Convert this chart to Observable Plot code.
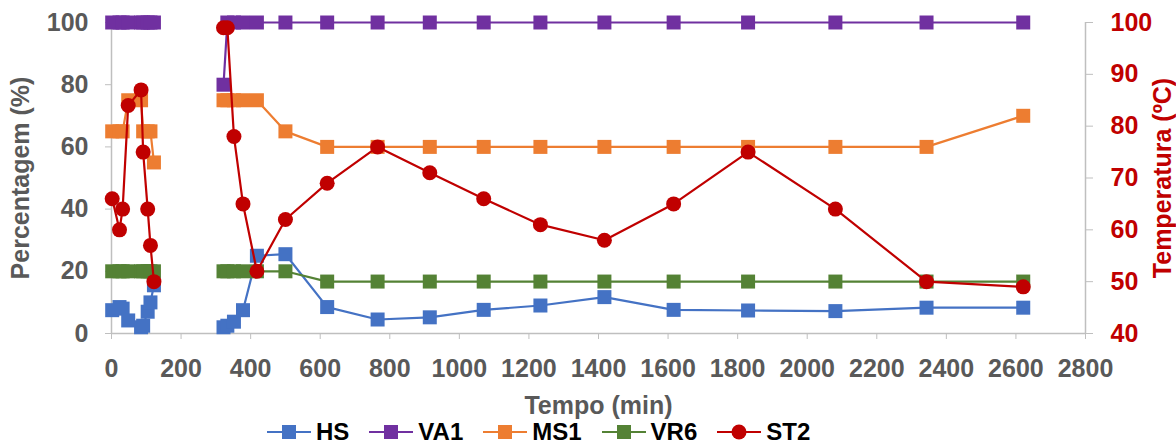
<!DOCTYPE html>
<html><head><meta charset="utf-8">
<script src="https://cdn.jsdelivr.net/npm/d3@7"></script>
<script src="https://cdn.jsdelivr.net/npm/@observablehq/plot@0.6"></script>
<style>
body{margin:0;background:#fff;font-family:"Liberation Sans",Arial,sans-serif;}
#wrap{position:relative;width:1176px;height:420px;}
#wrap svg{position:absolute;left:0;top:0;}
#legend{display:flex;align-items:center;height:24px;padding-left:267px;font-weight:bold;font-size:24px;color:#000;}
#legend .item{display:flex;align-items:center;margin-right:20px;}
#legend svg{margin-right:5px;}
</style></head><body>
<div id="wrap"></div>
<div id="legend"></div>
<script>
// Time (min): first run and second run (gap between them)
const tRun1 = [2, 23, 32, 48, 85, 91, 104, 112, 122];
const tRun2 = [322, 333, 352, 378, 418, 500, 620, 765, 915, 1070, 1233, 1417, 1616, 1830, 2081, 2343, 2621];

// Percentage series (%)
const HS_1  = [7.5, 8.5, 8, 4.2, 2, 2.5, 7, 10, 15.5];
const HS_2  = [2, 2.5, 3.8, 7.5, 25, 25.5, 8.5, 4.5, 5.2, 7.6, 9.0, 11.7, 7.6, 7.4, 7.2, 8.3, 8.3];
const VA1_1 = [100, 100, 100, 100, 100, 100, 100, 100, 100];
const VA1_2 = [80, 100, 100, 100, 100, 100, 100, 100, 100, 100, 100, 100, 100, 100, 100, 100, 100];
const MS1_1 = [65, 65, 65, 75, 75, 65, 65, 65, 55];
const MS1_2 = [75, 75, 75, 75, 75, 65, 60, 60, 60, 60, 60, 60, 60, 60, 60, 60, 70];
const VR6_1 = [20, 20, 20, 20, 20, 20, 20, 20, 20];
const VR6_2 = [20, 20, 20, 20, 20, 20, 16.7, 16.7, 16.7, 16.7, 16.7, 16.7, 16.7, 16.7, 16.7, 16.7, 16.7];

// Temperature series (ºC)
const ST2_1 = [66, 60, 64, 84, 87, 75, 64, 57, 50];
const ST2_2 = [99, 99, 78, 65, 52, 62, 69, 76, 71, 66, 61, 58, 65, 75, 64, 50, 49];

const seriesNames = ["HS", "VA1", "MS1", "VR6", "ST2"];
const seriesColors = ["#4472C4", "#7030A0", "#ED7D31", "#548235", "#C00000"];
const xTicks = [0, 200, 400, 600, 800, 1000, 1200, 1400, 1600, 1800, 2000, 2200, 2400, 2600, 2800];
const yTicks = [0, 20, 40, 60, 80, 100];
const tTicks = [40, 50, 60, 70, 80, 90, 100];

const pctSeries = {HS: [HS_1, HS_2], VA1: [VA1_1, VA1_2], MS1: [MS1_1, MS1_2], VR6: [VR6_1, VR6_2]};
const pctRows = [];
for (const [name, [a, b]] of Object.entries(pctSeries)) {
  a.forEach((v, i) => pctRows.push({series: name, run: 1, t: tRun1[i], v}));
  b.forEach((v, i) => pctRows.push({series: name, run: 2, t: tRun2[i], v}));
}
const tempRows = [];
ST2_1.forEach((v, i) => tempRows.push({series: "ST2", run: 1, t: tRun1[i], v}));
ST2_2.forEach((v, i) => tempRows.push({series: "ST2", run: 2, t: tRun2[i], v}));

const colorOf = Object.fromEntries(seriesNames.map((n, i) => [n, seriesColors[i]]));
const gray = "#BFBFBF", textGray = "#595959";
const common = {
  width: 1176, height: 420, marginLeft: 111, marginRight: 91, marginTop: 22, marginBottom: 87,
  style: {fontFamily: "'Liberation Sans', Arial, sans-serif", fontSize: "25px", fontWeight: "bold", background: "transparent", overflow: "visible"}
};

const seriesMarks = (rows, name) => [
  Plot.line(rows.filter(d => d.series === name), {x: "t", y: "v", z: "run", stroke: colorOf[name], strokeWidth: 2.2}),
  Plot.dot(rows.filter(d => d.series === name), {x: "t", y: "v", symbol: name === "ST2" ? "circle" : "square", r: name === "ST2" ? 7.5 : 7.9, fill: colorOf[name], stroke: "none"})
];

const p1 = Plot.plot({
  ...common,
  x: {domain: [0, 2800]},
  y: {domain: [0, 100]},
  marks: [
    Plot.ruleY([0], {stroke: gray, strokeWidth: 1.5}),
    Plot.ruleX([0], {stroke: gray, strokeWidth: 1.5}),
    Plot.axisX({ticks: xTicks, tickFormat: d => String(d), tickSize: 6, tickPadding: 20, stroke: gray, fill: textGray,
      label: "Tempo (min)", labelAnchor: "center", labelOffset: 80, labelArrow: false}),
    Plot.axisY({ticks: yTicks, tickFormat: d => String(d), tickSize: 6, tickPadding: 17, stroke: gray, fill: textGray,
      label: "Percentagem (%)", labelAnchor: "center", labelOffset: 100, labelArrow: false}),
    ...seriesMarks(pctRows, "HS"),
    ...seriesMarks(pctRows, "VA1"),
    ...seriesMarks(pctRows, "MS1"),
    ...seriesMarks(pctRows, "VR6")
  ]
});

const p2 = Plot.plot({
  ...common,
  x: {domain: [0, 2800], axis: null},
  y: {domain: [40, 100], axis: null},
  marks: [
    Plot.ruleX([2800], {stroke: gray, strokeWidth: 1.5}),
    Plot.axisY({anchor: "right", ticks: tTicks, tickFormat: d => String(d), tickSize: 7, tickPadding: 18, stroke: gray, fill: "#C00000",
      label: "Temperatura (ºC)", labelAnchor: "center", labelOffset: 85, labelArrow: false}),
    ...seriesMarks(tempRows, "ST2")
  ]
});

const wrap = document.getElementById("wrap");
wrap.appendChild(p1);
wrap.appendChild(p2);

// Legend
const legend = document.getElementById("legend");
seriesNames.forEach((name, i) => {
  const item = document.createElement("div");
  item.className = "item";
  const c = seriesColors[i];
  const marker = name === "ST2"
    ? `<circle cx="22" cy="11" r="7.5" fill="${c}"/>`
    : `<rect x="15" y="4" width="14" height="14" fill="${c}"/>`;
  item.innerHTML = `<svg width="44" height="22"><line x1="0" x2="44" y1="11" y2="11" stroke="${c}" stroke-width="2.2"/>${marker}</svg><span>${name}</span>`;
  legend.appendChild(item);
});
</script>
</body></html>
